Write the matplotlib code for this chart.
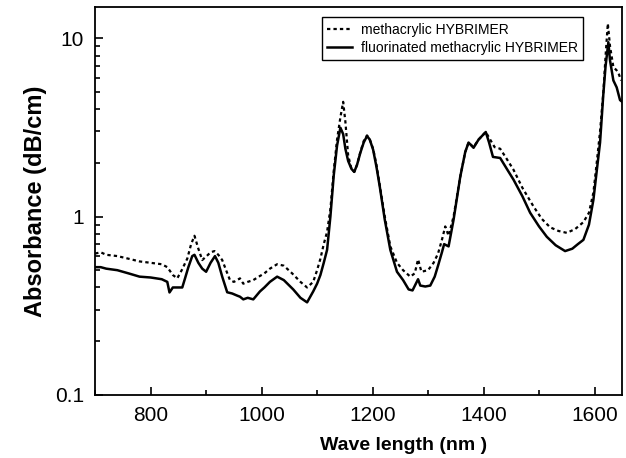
import numpy as np
import matplotlib.pyplot as plt
from matplotlib.ticker import LogLocator, FuncFormatter, MultipleLocator, NullFormatter

plt.rcParams['font.family'] = ['Liberation Sans', 'DejaVu Sans']

# methacrylic HYBRIMER (dotted)
wl_meth = [700, 710, 720, 740, 760, 780, 800, 820, 830, 840, 848, 856, 866, 873, 879,
           886, 893, 901, 908, 915, 922, 929, 936, 943, 950, 956, 961, 967, 975, 985,
           995, 1005, 1015, 1028, 1040, 1055, 1070, 1082, 1093, 1100, 1106, 1112, 1118,
           1124, 1130, 1136, 1142, 1147, 1151, 1156, 1162, 1167, 1172, 1178, 1184, 1190,
           1195, 1201, 1207, 1213, 1222, 1232, 1244, 1255, 1268, 1276, 1282, 1288, 1300,
           1310, 1318, 1325, 1331, 1337, 1346, 1358, 1367, 1373, 1382, 1391, 1404, 1412,
           1420, 1430, 1442, 1454, 1470, 1490, 1505, 1520, 1535, 1550, 1565, 1580, 1590,
           1598, 1604, 1610, 1616, 1620, 1624, 1628, 1634, 1640, 1643, 1648]
abs_meth = [0.62, 0.63, 0.61, 0.60, 0.58, 0.56, 0.55, 0.54, 0.52, 0.47, 0.45, 0.50, 0.58, 0.70, 0.78,
            0.66, 0.57, 0.60, 0.63, 0.64, 0.61, 0.57, 0.50, 0.44, 0.43, 0.44, 0.45, 0.42, 0.43, 0.44,
            0.46, 0.48, 0.51, 0.54, 0.53, 0.48, 0.43, 0.40, 0.43, 0.50, 0.58, 0.70, 0.82,
            1.1, 1.8, 2.7, 3.6, 4.4, 3.4, 2.2, 1.85, 1.78, 1.95, 2.3, 2.65, 2.85,
            2.7, 2.4, 1.95, 1.5, 1.0, 0.68, 0.55, 0.50, 0.46, 0.48, 0.575, 0.49, 0.50,
            0.55, 0.62, 0.74, 0.88, 0.78, 1.0, 1.67, 2.3, 2.6, 2.45, 2.7, 2.98, 2.7,
            2.45, 2.4, 2.1, 1.83, 1.45, 1.14, 0.97, 0.87, 0.83, 0.81, 0.85, 0.93, 1.05,
            1.36, 2.0, 3.0, 5.0, 8.0, 12.1, 9.0, 6.9, 6.6, 6.4, 5.8]

# fluorinated methacrylic HYBRIMER (solid)
wl_fluor = [700, 710, 720, 740, 760, 780, 800, 820, 830, 834, 840, 848, 857, 862, 868,
            875, 879, 886, 893, 900, 908, 916, 922, 929, 938, 947, 956, 961, 967, 975,
            985, 997, 1005, 1015, 1028, 1040, 1057, 1070, 1082, 1093, 1100, 1106, 1112,
            1118, 1124, 1130, 1136, 1142, 1147, 1151, 1156, 1162, 1167, 1172, 1178, 1184,
            1190, 1195, 1201, 1207, 1213, 1222, 1232, 1244, 1255, 1265, 1272, 1278, 1282,
            1286, 1295, 1304, 1312, 1318, 1325, 1329, 1337, 1346, 1358, 1367, 1373, 1382,
            1391, 1404, 1410, 1417, 1430, 1442, 1454, 1470, 1484, 1500, 1514, 1530, 1547,
            1560, 1570, 1580, 1590, 1598, 1604, 1610, 1616, 1620, 1625, 1628, 1634, 1640,
            1646, 1650]
abs_fluor = [0.52, 0.52, 0.51, 0.50, 0.48, 0.46, 0.455, 0.445, 0.43, 0.375, 0.40, 0.40, 0.40, 0.45, 0.52,
             0.60, 0.61, 0.55, 0.51, 0.49, 0.55, 0.60, 0.55, 0.46, 0.376, 0.37, 0.36, 0.355, 0.343, 0.35,
             0.343, 0.38, 0.40, 0.43, 0.46, 0.44, 0.39, 0.35, 0.33, 0.38, 0.42, 0.47, 0.55,
             0.65, 1.0, 1.7, 2.5, 3.15, 2.9, 2.4, 2.05, 1.85, 1.78, 1.95, 2.28, 2.6,
             2.83, 2.7, 2.37, 1.9, 1.47, 0.96, 0.65, 0.49, 0.44, 0.39, 0.385, 0.42, 0.445,
             0.41, 0.405, 0.41, 0.46, 0.53, 0.63, 0.70, 0.68, 0.96, 1.67, 2.3, 2.6, 2.43,
             2.7, 2.98, 2.6, 2.16, 2.13, 1.85, 1.61, 1.3, 1.05, 0.88, 0.77, 0.69, 0.64,
             0.66, 0.70, 0.74, 0.9, 1.24, 1.8, 2.6, 4.9, 7.0, 9.5, 7.5, 5.8, 5.3,
             4.5, 4.4]

fig = plt.figure(figsize=(6.26, 4.58), dpi=100)
ax = fig.add_axes([0.152, 0.138, 0.842, 0.847])

ax.plot(wl_meth, abs_meth, color='black', lw=1.6, linestyle=(0, (1.5, 1.4)),
        label='methacrylic HYBRIMER')
ax.plot(wl_fluor, abs_fluor, color='black', lw=1.8, label='fluorinated methacrylic HYBRIMER')

ax.set_yscale('log')
ax.set_xlim(700, 1650)
ax.set_ylim(0.1, 15)

ax.xaxis.set_major_locator(MultipleLocator(200))
ax.xaxis.set_minor_locator(MultipleLocator(100))
ax.yaxis.set_major_locator(LogLocator(base=10))
ax.yaxis.set_minor_locator(LogLocator(base=10, subs=np.arange(2, 10)))
ax.yaxis.set_major_formatter(FuncFormatter(lambda v, p: '%g' % v))
ax.yaxis.set_minor_formatter(NullFormatter())

ax.tick_params(which='both', direction='in', top=False, right=False, labelsize=15, width=1.2)
ax.tick_params(which='major', length=6, pad=8)
ax.tick_params(which='minor', length=3.5)
for s in ax.spines.values():
    s.set_linewidth(1.3)

ax.set_xlabel('Wave length (nm )', fontsize=14, fontweight='bold')
ax.xaxis.set_label_coords(0.585, -0.108)
ax.set_ylabel('Absorbance (dB/cm)', fontsize=17, fontweight='bold', labelpad=6)

leg = ax.legend(loc='upper right', bbox_to_anchor=(0.926, 0.974), borderaxespad=0,
                fontsize=10, fancybox=False, edgecolor='black', framealpha=1,
                handlelength=1.8, handletextpad=0.6, borderpad=0.4, labelspacing=0.3)
leg.get_frame().set_linewidth(1.0)

fig.savefig('out.png', dpi=100)
